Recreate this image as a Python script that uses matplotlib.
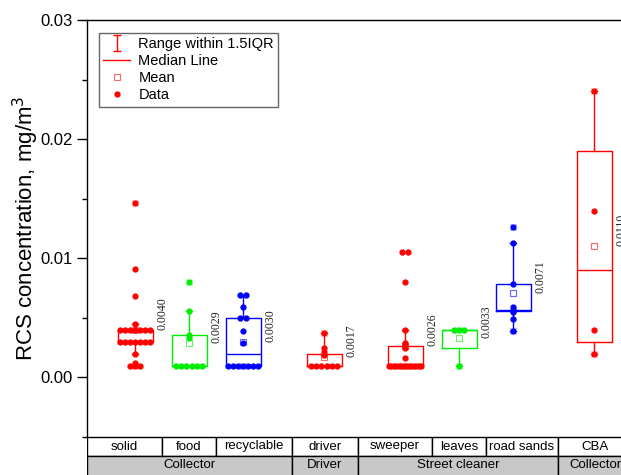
import matplotlib
matplotlib.use('Agg')
import matplotlib.pyplot as plt
from matplotlib.lines import Line2D
from matplotlib.path import Path
from matplotlib.patches import Rectangle

plt.rcParams['font.family'] = ['Liberation Sans', 'DejaVu Sans']

# categories and groups
categories = ['solid', 'food', 'recyclable', 'driver', 'sweeper', 'leaves', 'road sands', 'CBA']
groups = ['Collector', 'Driver', 'Street cleaner', 'Collector']
positions = [1, 2, 3, 4.5, 6, 7, 8, 9.5]
colors = ['#ff0000', '#00ee00', '#0000ff', '#ff0000', '#ff0000', '#00ee00', '#0000ff', '#ff0000']

# raw data (mg/m3)
solid = [0.0146, 0.0091, 0.0068, 0.0045, 0.004, 0.004, 0.004, 0.004, 0.004, 0.004, 0.004,
         0.003, 0.003, 0.003, 0.003, 0.003, 0.003, 0.003, 0.002, 0.0012, 0.001, 0.001, 0.001]
food = [0.008, 0.0056, 0.0036, 0.0033, 0.001, 0.001, 0.001, 0.001, 0.001, 0.001]
recyclable = [0.0069, 0.0069, 0.0059, 0.005, 0.005, 0.0039, 0.0029,
              0.001, 0.001, 0.001, 0.001, 0.001, 0.001, 0.001]
driver = [0.0037, 0.0025, 0.0021, 0.0019, 0.001, 0.001, 0.001, 0.001, 0.001, 0.001]
sweeper = [0.0105, 0.0105, 0.008, 0.004, 0.0029, 0.0027, 0.0025, 0.0016,
           0.001, 0.001, 0.001, 0.001, 0.001, 0.001, 0.001, 0.001, 0.001, 0.001, 0.001, 0.001,
           0.001, 0.001]
leaves = [0.004, 0.004, 0.004, 0.001]
road_sands = [0.0126, 0.0113, 0.0078, 0.0059, 0.0057, 0.0056, 0.0055, 0.0049, 0.0039]
cba = [0.024, 0.014, 0.004, 0.002]
all_data = [solid, food, recyclable, driver, sweeper, leaves, road_sands, cba]

# box statistics as drawn in the chart
q1s = [0.003, 0.001, 0.001, 0.001, 0.001, 0.0025, 0.0056, 0.003]
medians = [0.003, 0.001, 0.00195, 0.001, 0.001, 0.004, 0.0057, 0.009]
q3s = [0.004, 0.0036, 0.005, 0.002, 0.0026, 0.004, 0.0078, 0.019]
whis_lo = [0.002, 0.001, 0.001, 0.001, 0.001, 0.001, 0.0039, 0.002]
whis_hi = [0.0045, 0.0056, 0.0069, 0.0037, 0.004, 0.004, 0.0113, 0.024]
means = [0.0040, 0.0029, 0.0030, 0.0017, 0.0026, 0.0033, 0.0071, 0.0110]
mean_labels = ['0.0040', '0.0029', '0.0030', '0.0017', '0.0026', '0.0033', '0.0071', '0.0110']

# table layout (x in data units)
cell_edges = [0.11, 1.5, 2.5, 3.9, 5.13, 6.5, 7.5, 8.83, 10.3]
group_edges = [0.11, 3.9, 5.13, 8.83, 10.3]

W, H = 621, 475
fig = plt.figure(figsize=(W / 100, H / 100), dpi=100)
ax_l, ax_r, ax_b, ax_t = 87, 632, 437, 20
ax = fig.add_axes([ax_l / W, (H - ax_b) / H, (ax_r - ax_l) / W, (ax_b - ax_t) / H])
x0 = 0.11
x1 = x0 + (ax_r - ax_l) / 54.0
ax.set_xlim(x0, x1)
ax.set_ylim(-0.005, 0.03)


def spread(values, pos):
    """spread equal values horizontally like a swarm"""
    xs = []
    counts = {}
    for v in values:
        counts[v] = counts.get(v, 0) + 1
    seen = {}
    for v in values:
        n = counts[v]
        i = seen.get(v, 0)
        seen[v] = i + 1
        if n == 1:
            xs.append(pos)
        else:
            step = min(0.095, 0.6 / (n - 1))
            xs.append(pos + (i - (n - 1) / 2) * step)
    return xs


stats = []
for i in range(len(categories)):
    stats.append({'q1': q1s[i], 'med': medians[i], 'q3': q3s[i],
                  'whislo': whis_lo[i], 'whishi': whis_hi[i], 'fliers': []})

bp = ax.bxp(stats, positions=positions, widths=0.65, capwidths=0.12,
            showfliers=False, patch_artist=False, manage_ticks=False)
for i, c in enumerate(colors):
    bp['boxes'][i].set(color=c, linewidth=1.0)
    bp['medians'][i].set(color=c, linewidth=1.0)
    for k in (2 * i, 2 * i + 1):
        bp['whiskers'][k].set(color=c, linewidth=1.0)
        bp['caps'][k].set(color=c, linewidth=1.0)

for i, vals in enumerate(all_data):
    pos = positions[i]
    c = colors[i]
    ax.plot([pos, pos], [min(vals), max(vals)], ls='none', marker='x', color=c,
            alpha=0.45, ms=5, mew=1, zorder=3)
    ax.plot(spread(vals, pos), vals, ls='none', marker='o', color=c, ms=3.5, zorder=4)
    ax.plot(pos, means[i], ls='none', marker='s', mfc='none', mec=c, alpha=0.6,
            ms=4.5, mew=0.8, zorder=4)
    ax.text(pos + 0.5, means[i], mean_labels[i], rotation=90, ha='center', va='bottom',
            family=['Liberation Serif'], fontsize=8.5, color='#222222')

ax.set_yticks([0.0, 0.01, 0.02, 0.03])
ax.set_yticks([-0.005, 0.005, 0.015, 0.025], minor=True)
ax.set_yticklabels(['0.00', '0.01', '0.02', '0.03'], fontsize=12)
ax.tick_params(axis='y', which='major', length=7, width=1, direction='out', pad=3)
ax.tick_params(axis='y', which='minor', length=3.6, width=1, direction='out')
ax.set_xticks([])
ax.set_ylabel('RCS concentration, mg/m$^3$', fontsize=16)
ax.yaxis.set_label_coords(-0.085, 0.5)
for s in ax.spines.values():
    s.set_linewidth(1.0)

# legend
cap_path = Path([(-0.5, -1), (0.5, -1), (0, -1), (0, 1), (-0.5, 1), (0.5, 1)],
                [Path.MOVETO, Path.LINETO, Path.MOVETO, Path.LINETO, Path.MOVETO, Path.LINETO])
handles = [
    Line2D([], [], ls='none', marker=cap_path, ms=11, mfc='none', mec='#ff0000', mew=1),
    Line2D([], [], color='#ff0000', lw=1),
    Line2D([], [], ls='none', marker='s', mfc='none', mec='#ff0000', alpha=0.6, ms=4.5, mew=0.8),
    Line2D([], [], ls='none', marker='o', color='#ff0000', ms=3.5),
]
leg = ax.legend(handles, ['Range within 1.5IQR', 'Median Line', 'Mean', 'Data'],
                loc='upper left', bbox_to_anchor=(12 / 545, (437 - 33) / 417),
                borderaxespad=0, fontsize=10.5, fancybox=False, framealpha=1,
                edgecolor='#666666', handlelength=1.8, labelspacing=0.2,
                borderpad=0.3, handletextpad=0.6)
leg.get_frame().set_linewidth(1.0)

# category table under the axis
tab = fig.add_axes([ax_l / W, 0, (ax_r - ax_l) / W, 38 / H])
tab.set_xlim(x0, x1)
tab.set_ylim(0, 2)
tab.axis('off')
for i, name in enumerate(categories):
    a, b = cell_edges[i], cell_edges[i + 1]
    tab.add_patch(Rectangle((a, 1), b - a, 1, facecolor='white', edgecolor='black', lw=1))
    tab.text((a + min(b, x1)) / 2, 1.5, name, ha='center', va='center', fontsize=9.5)
for i, name in enumerate(groups):
    a, b = group_edges[i], group_edges[i + 1]
    tab.add_patch(Rectangle((a, -0.2), b - a, 1.2, facecolor='#c8c8c8', edgecolor='black', lw=1))
    tab.text((a + min(b, x1)) / 2, 0.5, name, ha='center', va='center', fontsize=9.5)

fig.savefig('out.png', dpi=100)
